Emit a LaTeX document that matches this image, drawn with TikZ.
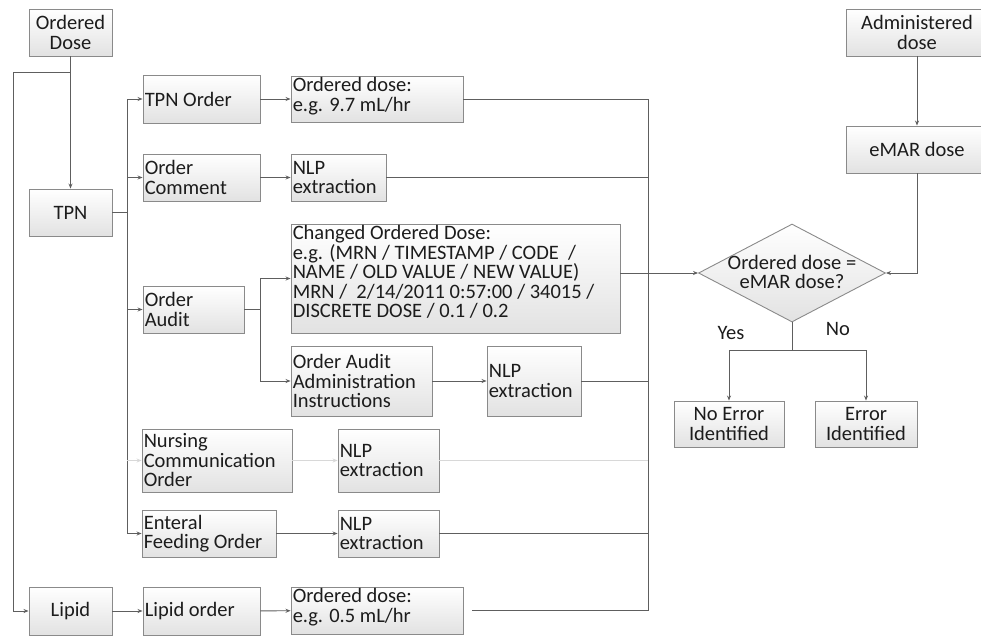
\documentclass[tikz,border=0pt]{standalone}
\usepackage{fontspec}
\setmainfont{Carlito}
\usetikzlibrary{arrows.meta,fit,shapes.geometric}

\definecolor{edge}{HTML}{8A8A8A}
\definecolor{wirec}{HTML}{5E5E5E}
\definecolor{faintc}{HTML}{D8D8D8}
\definecolor{boxbot}{HTML}{E2E2E2}
\definecolor{ink}{HTML}{1C1C1C}

% a shaded rectangle spanning two corner points
\newcommand\mkbox[3]{\node[box, fit={#2 #3}] (#1) {};}

\begin{document}
\begin{tikzpicture}[x=1pt, y=-1pt,
  font=\fontsize{20.5}{19.5}\selectfont,
  box/.style={draw=edge, line width=0.9pt, top color=white, bottom color=boxbot, inner sep=0pt},
  lbl/.style={inner sep=0pt, align=left, text=ink},
  clbl/.style={inner sep=0pt, align=center, text=ink},
  wire/.style={draw=wirec, line width=0.9pt},
  faintwire/.style={draw=faintc, line width=0.9pt},
  tip/.style={-{Stealth[length=5pt,width=4pt]}},
]
\useasboundingbox (0,0) rectangle (981,638);

% ---------- boxes ----------
\mkbox{od}{(29,9)}{(112,56)}
\mkbox{tpn}{(29,189)}{(112,236)}
\mkbox{lipid}{(29,587)}{(112,635)}
\mkbox{tpno}{(143,75)}{(260,123)}
\mkbox{oc}{(143,154)}{(260,201)}
\mkbox{oa}{(143,286)}{(244,333)}
\mkbox{noc}{(142,429)}{(292,492)}
\mkbox{efo}{(142,510)}{(276,557)}
\mkbox{lo}{(143,587)}{(260,635)}
\mkbox{d97}{(291,76)}{(463,122)}
\mkbox{nlp1}{(291,154)}{(386,201)}
\mkbox{cod}{(291,224)}{(620,333)}
\mkbox{oaai}{(291,346)}{(432,416)}
\mkbox{nlp2}{(487,346)}{(581,416)}
\mkbox{nlp3}{(338,429)}{(439,492)}
\mkbox{nlp4}{(338,510)}{(439,557)}
\mkbox{d05}{(291,587)}{(463,634)}
\mkbox{adm}{(846,9)}{(988,56)}
\mkbox{emar}{(846,126)}{(988,173)}
\mkbox{noerr}{(674,401)}{(784,447)}
\mkbox{err}{(815,401)}{(917,447)}

\node[box, diamond, minimum width=187pt, minimum height=98pt] (dec) at (792,273) {};

% ---------- texts ----------
\node[clbl] (od-t) at (od.center) {Ordered\\Dose};
\node[clbl] (tpn-t) at (tpn.center) {TPN};
\node[clbl] (lipid-t) at (lipid.center) {Lipid};
\node[clbl] (adm-t) at (adm.center) {Administered\\dose};
\node[clbl] (emar-t) at (emar.center) {eMAR dose};
\node[clbl] (noerr-t) at (noerr.center) {No Error\\Identified};
\node[clbl] (err-t) at (err.center) {Error\\Identified};
\node[clbl] (dec-t) at ([yshift=1pt]dec.center) {Ordered dose =\\eMAR dose?};

\node[lbl, anchor=west] (tpno-t) at ([xshift=2pt]tpno.west) {TPN Order};
\node[lbl, anchor=west] (oc-t) at ([xshift=2pt]oc.west) {Order\\Comment};
\node[lbl, anchor=west] (oa-t) at ([xshift=2pt]oa.west) {Order\\Audit};
\node[lbl, anchor=west] (noc-t) at ([xshift=2pt]noc.west) {Nursing\\Communication\\Order};
\node[lbl, anchor=west] (efo-t) at ([xshift=2pt]efo.west) {Enteral\\Feeding Order};
\node[lbl, anchor=west] (lo-t) at ([xshift=2pt]lo.west) {Lipid order};
\node[lbl, anchor=west] (nlp1-t) at ([xshift=2pt]nlp1.west) {NLP\\extraction};
\node[lbl, anchor=west] (oaai-t) at ([xshift=2pt]oaai.west) {Order Audit\\Administration\\Instructions};
\node[lbl, anchor=west] (nlp2-t) at ([xshift=2pt]nlp2.west) {NLP\\extraction};
\node[lbl, anchor=west] (nlp3-t) at ([xshift=2pt]nlp3.west) {NLP\\extraction};
\node[lbl, anchor=west] (nlp4-t) at ([xshift=2pt]nlp4.west) {NLP\\extraction};
\node[lbl, anchor=north west] (d97-t) at ([shift={(2,2)}]d97.north west) {Ordered dose:\\e.g. 9.7 mL/hr};
\node[lbl, anchor=north west] (d05-t) at ([shift={(2,2)}]d05.north west) {Ordered dose:\\e.g. 0.5 mL/hr};
\node[lbl, anchor=north west] (cod-t) at ([shift={(2,2)}]cod.north west)
  {Changed Ordered Dose:\\e.g. (MRN / TIMESTAMP / CODE \ /\\NAME / OLD VALUE / NEW VALUE)\\MRN / \ 2/14/2011 0:57:00 / 34015 /\\DISCRETE DOSE / 0.1 / 0.2};

\node[clbl] (yes) at (731,333) {Yes};
\node[clbl] (no) at (838,329) {No};

% ---------- junction points ----------
\coordinate (odsplit) at (70.5,72);
\coordinate (lbus) at (13,72);
\coordinate (tbus) at (127,212.5);
\coordinate (abus) at (260,309.5);
\coordinate (rbus) at (648,273);
\coordinate (dsplit) at (792,350);

% ---------- connectors ----------
\draw[wire, tip] (od) -- (tpn);
\draw[wire, tip] (odsplit) -- (lbus) |- (lipid.west);

\draw[wire] (tpn.east) -- (tbus);
\draw[wire, tip] (tbus) |- (tpno.west);
\draw[wire, tip] (tbus) |- (oc.west);
\draw[wire, tip] (tbus) |- (oa.west);
\draw[wire, tip] (tbus) |- (efo.west);
\draw[faintwire, tip] (noc.west -| tbus) -- (noc.west);

\draw[wire, tip] (tpno) -- (d97);
\draw[wire, tip] (oc) -- (nlp1);
\draw[wire, tip] (oaai) -- (nlp2);
\draw[faintwire, tip] (noc) -- (nlp3);
\draw[wire, tip] (efo) -- (nlp4);
\draw[wire, tip] (lipid) -- (lo);
\draw[wire, tip] (lo) -- (d05);

\draw[wire] (oa.east) -- (abus);
\draw[wire, tip] (abus) |- (cod.west);
\draw[wire, tip] (abus) |- (oaai.west);

\draw[wire] (d97.east) -| (rbus);
\draw[wire] (nlp1.east) -- (nlp1.east -| rbus);
\draw[wire] (nlp2.east) -- (nlp2.east -| rbus);
\draw[faintwire] (nlp3.east) -- (nlp3.east -| rbus);
\draw[wire] (nlp4.east) -- (nlp4.east -| rbus);
\draw[wire, shorten <=9pt] (d05.east) -| (rbus);
\draw[wire, tip] (cod.east |- rbus) -- (dec.west);

\draw[wire, tip] (adm) -- (emar.north -| adm.south);
\draw[wire, tip] (emar.south -| adm.south) |- (dec.east);

\draw[wire] (dec.south) -- (dsplit);
\draw[wire, tip] (dsplit) -| (noerr.north);
\draw[wire, tip] (dsplit) -| (err.north);
\end{tikzpicture}
\end{document}
